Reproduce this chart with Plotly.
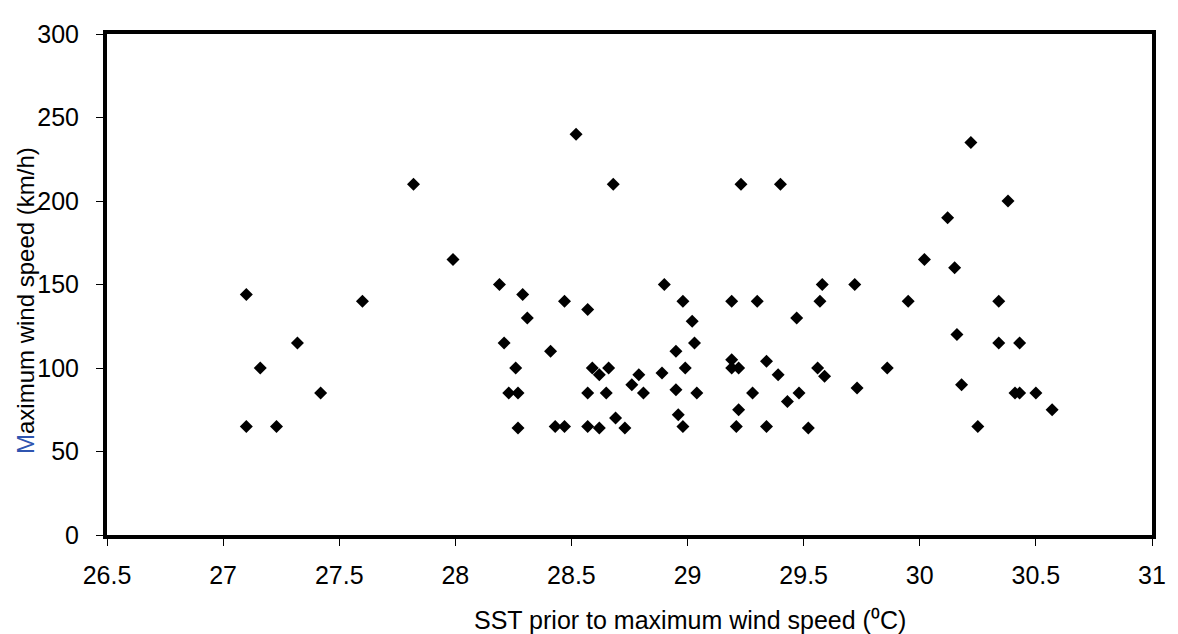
import plotly.graph_objects as go

sst = [27.10, 27.10, 27.16, 27.23, 27.32, 27.42, 27.60, 27.82, 27.99,
       28.19, 28.21, 28.23, 28.26, 28.27, 28.27, 28.29, 28.31, 28.41, 28.43, 28.47, 28.47,
       28.52, 28.57, 28.57, 28.57, 28.59, 28.62, 28.62, 28.65, 28.66, 28.68, 28.69, 28.73,
       28.76, 28.79, 28.81, 28.89, 28.90, 28.95, 28.95, 28.96, 28.98, 28.98, 28.99,
       29.02, 29.03, 29.04, 29.19, 29.19, 29.19, 29.21, 29.22, 29.22, 29.23, 29.28,
       29.30, 29.34, 29.34, 29.39, 29.40, 29.43, 29.47, 29.48, 29.52, 29.56, 29.57,
       29.58, 29.59, 29.72, 29.73, 29.86, 29.95, 30.02, 30.12, 30.15, 30.16, 30.18,
       30.22, 30.25, 30.34, 30.34, 30.38, 30.41, 30.43, 30.43, 30.50, 30.57]
wind = [144, 65, 100, 65, 115, 85, 140, 210, 165,
        150, 115, 85, 100, 85, 64, 144, 130, 110, 65, 140, 65,
        240, 135, 85, 65, 100, 96, 64, 85, 100, 210, 70, 64,
        90, 96, 85, 97, 150, 110, 87, 72, 140, 65, 100,
        128, 115, 85, 140, 105, 100, 65, 75, 100, 210, 85,
        140, 104, 65, 96, 210, 80, 130, 85, 64, 100, 140,
        150, 95, 150, 88, 100, 140, 165, 190, 160, 120, 90,
        235, 65, 140, 115, 200, 85, 115, 85, 85, 75]

x_ticks = [26.5, 27, 27.5, 28, 28.5, 29, 29.5, 30, 30.5, 31]
y_ticks = [0, 50, 100, 150, 200, 250, 300]

x_title = "SST prior to maximum wind speed (\u2070C)"
y_title = "<span style='color:#2f55b0;font-size:24px'>M</span>aximum wind speed (km/h)"

fig = go.Figure()
fig.add_trace(go.Scatter(
    x=sst, y=wind, mode="markers",
    marker=dict(symbol="diamond", size=10, color="black", line=dict(width=0)),
    showlegend=False,
))

font_family = "Liberation Sans, Arial, sans-serif"
fig.update_layout(
    width=1170, height=626,
    margin=dict(l=99, r=23, t=12, b=99),
    paper_bgcolor="white", plot_bgcolor="white",
    font=dict(family=font_family, color="black", size=24),
    xaxis=dict(
        range=[26.5, 31], tickvals=x_ticks, ticktext=[f"{v:g}" for v in x_ticks],
        showgrid=False, zeroline=False,
        showline=True, linewidth=4, linecolor="black", mirror=True,
        ticks="outside", ticklen=7, tickwidth=1, tickcolor="black",
        tickfont=dict(size=25), ticklabelstandoff=8,
    ),
    yaxis=dict(
        range=[0, 300], tickvals=y_ticks,
        showgrid=False, zeroline=False,
        showline=True, linewidth=4, linecolor="black", mirror=True,
        ticks="outside", ticklen=7, tickwidth=1, tickcolor="black",
        tickfont=dict(size=25), ticklabelstandoff=12,
    ),
    annotations=[
        dict(text=x_title, xref="paper", yref="paper", x=0.558, y=-0.169,
             xanchor="center", yanchor="middle", showarrow=False,
             font=dict(size=25)),
        dict(text=y_title, xref="paper", yref="paper", x=-0.078, y=0.468,
             xanchor="center", yanchor="middle", showarrow=False, textangle=-90,
             font=dict(size=24)),
    ],
)

fig.write_html("out.html")
